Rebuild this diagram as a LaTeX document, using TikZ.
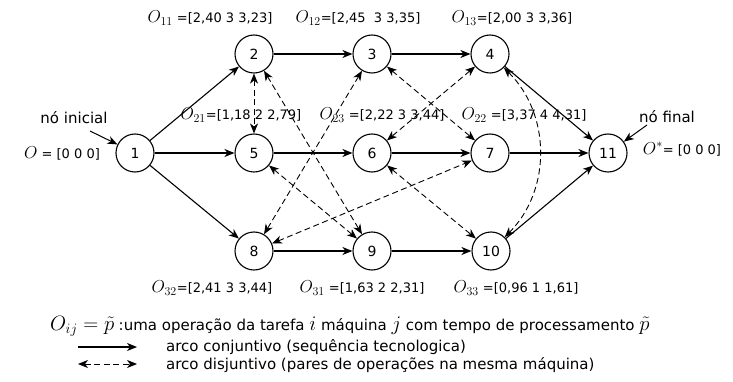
\documentclass[tikz,border=0pt]{standalone}
\usepackage{fontspec}
\newfontfamily\dv{DejaVu Sans}
\usetikzlibrary{arrows.meta}
\newcommand{\mO}[1]{{\fontsize{17}{18}\selectfont$O_{#1}$}}
\newcommand{\bigmath}[1]{{\fontsize{20}{22}\selectfont$#1$}}
\begin{document}
\begin{tikzpicture}[x=1pt,y=-1pt,
  state/.style={circle,draw,line width=1.1pt,minimum size=38pt,inner sep=0pt,font=\dv\fontsize{14}{16}\selectfont},
  conj/.style={line width=1.1pt,-{Stealth[length=10pt,width=8pt,inset=3pt]}},
  disj/.style={line width=0.9pt,dash pattern=on 6pt off 3.5pt,{Stealth[length=10pt,width=8pt,inset=3pt]}-{Stealth[length=10pt,width=8pt,inset=3pt]}},
  lab/.style={font=\dv\fontsize{13}{15}\selectfont,inner sep=0pt},
  big/.style={font=\dv\fontsize{15}{18}\selectfont,inner sep=0pt}]
\useasboundingbox (0,0) rectangle (733,382);
% nodes
\node[state] (n1) at (135,153) {1};
\node[state] (n2) at (254,54) {2};
\node[state] (n3) at (372,54) {3};
\node[state] (n4) at (490,54) {4};
\node[state] (n5) at (254,153) {5};
\node[state] (n6) at (372,153) {6};
\node[state] (n7) at (490,153) {7};
\node[state] (n8) at (254,251) {8};
\node[state] (n9) at (372,251) {9};
\node[state] (n10) at (491,251) {10};
\node[state] (n11) at (608,153) {11};
% conjunctive arcs
\draw[conj] (n1) -- (n2);
\draw[conj] (n1) -- (n5);
\draw[conj] (n1) -- (n8);
\draw[conj] (n2) -- (n3);
\draw[conj] (n3) -- (n4);
\draw[conj] (n5) -- (n6);
\draw[conj] (n6) -- (n7);
\draw[conj] (n7) -- (n11);
\draw[conj] (n4) -- (n11);
\draw[conj] (n8) -- (n9);
\draw[conj] (n9) -- (n10);
\draw[conj] (n10) -- (n11);
% disjunctive arcs
\draw[disj] (n2) -- (n5);
\draw[disj] (n2) -- (n9);
\draw[disj] (n3) -- (n8);
\draw[disj] (n5) -- (n9);
\draw[disj] (n4) -- (n6);
\draw[disj] (n3) -- (n7);
\draw[disj] (n8) -- (n7);
\draw[disj] (n6) -- (n10);
\draw[disj] (n4) to[bend left=45] (n10);
% labels
\node[lab] (l11) at (210,18) {\mO{11} =[2,40 3 3,23]};
\node[lab] (l12) at (358,18) {\mO{12}=[2,45~ 3 3,35]};
\node[lab] (l13) at (512,18) {\mO{13}=[2,00 3 3,36]};
\node[lab] (l21) at (241,115) {\mO{21}=[1,18 2 2,79]};
\node[lab] (l23) at (382,115) {\mO{23} =[2,22 3 3,44]};
\node[lab] (l22) at (524,115) {\mO{22} =[3,37 4 4,31]};
\node[lab] (l32) at (212,288) {\mO{32}=[2,41 3 3,44]};
\node[lab] (l31) at (362,288) {\mO{31} =[1,63 2 2,31]};
\node[lab] (l33) at (516,288) {\mO{33} =[0,96 1 1,61]};
\node[lab] (l0) at (62,153) {{\fontsize{17}{18}\selectfont$O$} = [0 0 0]};
\node[lab] (lf) at (682,149) {{\fontsize{17}{18}\selectfont$O^*$}= [0 0 0]};
\node[big] (ti) at (74,118) {nó inicial};
\node[big] (tf) at (667,117) {nó final};
\coordinate (ci) at (90,131);
\coordinate (cf) at (647,125);
\draw[line width=1pt,-{Stealth[length=10pt,width=8pt,inset=3pt]}] (ci) -- (n1);
\draw[line width=1pt,-{Stealth[length=10pt,width=8pt,inset=3pt]}] (cf) -- (n11);
% legend
\node[big,anchor=base west] (lg0a) at (50,330) {\bigmath{O_{ij}=\tilde p}};
\node[big,anchor=base west] (lg0b) at ([xshift=4pt]lg0a.base east) {:uma operação da tarefa \bigmath{i} máquina \bigmath{j} com tempo de processamento \bigmath{\tilde p}};
\coordinate (a1) at (78,347);
\coordinate (a2) at (137,347);
\draw[conj] (a1) -- (a2);
\coordinate (b1) at (78,364);
\coordinate (b2) at (137,364);
\draw[disj] (b1) -- (b2);
\node[big,anchor=west] (leg1) at (166,347) {arco conjuntivo (sequência tecnologica)};
\node[big,anchor=west] (leg2) at (166,365) {arco disjuntivo (pares de operações na mesma máquina)};
\end{tikzpicture}
\end{document}
